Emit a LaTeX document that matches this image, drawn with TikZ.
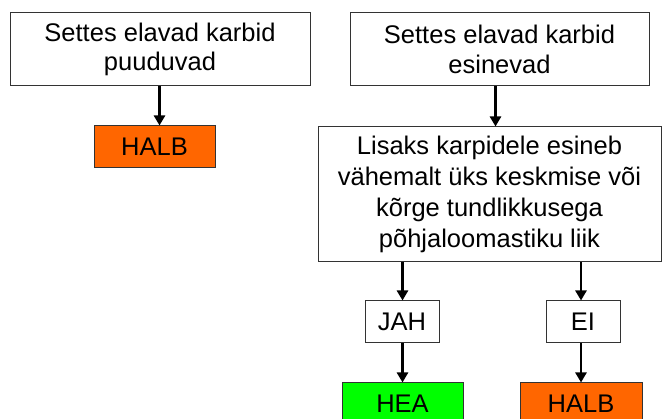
\documentclass[tikz,border=0pt]{standalone}
\usepackage{fontspec}
\setmainfont{Liberation Sans}
\usetikzlibrary{arrows.meta}

\definecolor{halbcol}{HTML}{FF6600}
\definecolor{heacol}{HTML}{00FF00}

\tikzset{
  box/.style={draw=black!80,line width=1pt,fill=white,align=center,inner sep=0pt,
    font=\fontsize{25.5}{29.5}\selectfont},
  result/.style={box,minimum width=121pt,minimum height=42pt},
  answer/.style={box,minimum width=74pt,minimum height=42pt},
  arr/.style={line width=2.8pt,-{Triangle[length=10pt,width=11pt]}}
}

\begin{document}
\begin{tikzpicture}[x=1pt,y=-1pt]
\clip (0,0) rectangle (662,419);
\fill[white] (0,0) rectangle (662,419);
\node[box,minimum width=300pt,minimum height=73pt] (top1) at (160,49.5){Settes elavad karbid\\puuduvad};
\node[result,fill=halbcol] (halb1) at (154.5,147){HALB};
\node[box,minimum width=299pt,minimum height=73pt] (top2) at (499.5,49.5){Settes elavad karbid\\esinevad};
\node[box,minimum width=343pt,minimum height=135pt,font=\fontsize{25.5}{31}\selectfont] (mid) at (489.5,194.5){Lisaks karpidele esineb\\vähemalt üks keskmise või\\kõrge tundlikkusega\\põhjaloomastiku liik};
\node[answer] (jah) at (402,322){JAH};
\node[answer] (ei) at (583,322){EI};
\node[result,fill=heacol] (hea) at (402.5,404){HEA};
\node[result,fill=halbcol,minimum width=122pt] (halb2) at (581,404){HALB};
\coordinate (x1) at (159.5,0);
\coordinate (x2) at (495.5,0);
\draw[arr] (top1.south -| x1) -- (halb1.north -| x1);
\draw[arr] (top2.south -| x2) -- (mid.north -| x2);
\foreach \from/\to in {jah/hea,ei/halb2}
	\draw[arr] (mid.south -| \to) -- (\from.north -| \to);
\foreach \from/\to in {jah/hea,ei/halb2}
	\draw[arr] (\from.south -| \to) -- (\to.north);
\end{tikzpicture}
\end{document}
